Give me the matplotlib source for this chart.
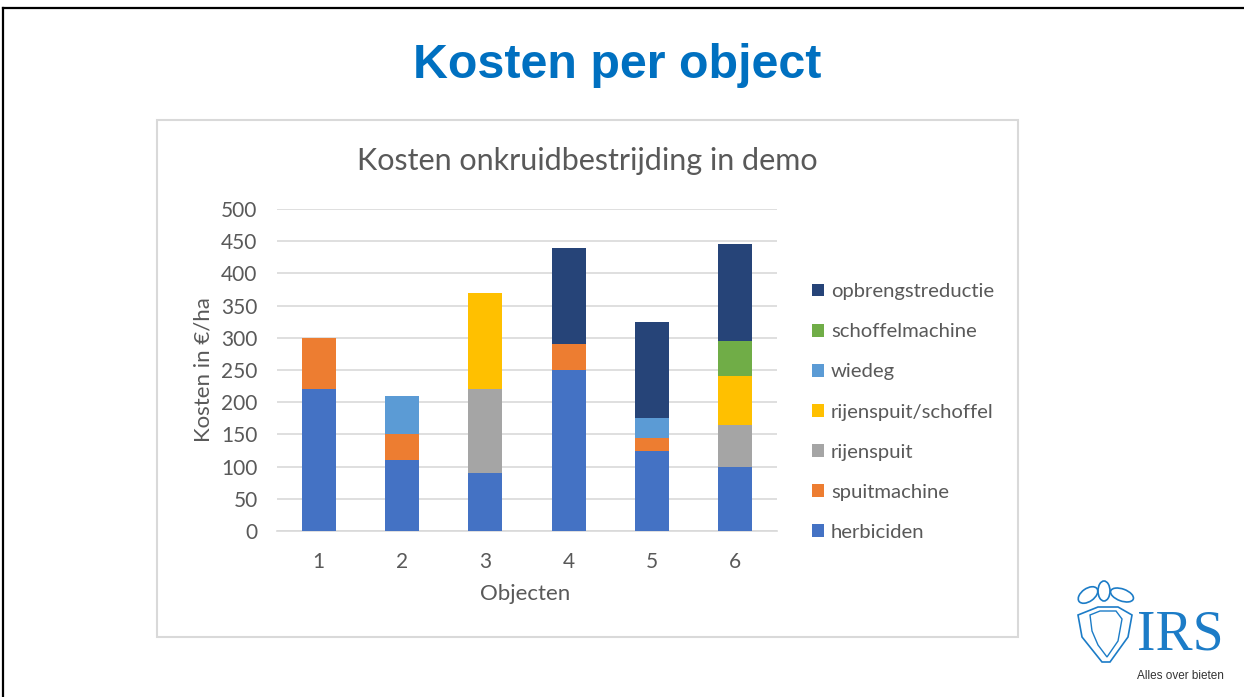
import matplotlib
matplotlib.use("Agg")
import matplotlib.pyplot as plt
from matplotlib.patches import Rectangle, Ellipse, Polygon
from matplotlib.lines import Line2D
import numpy as np

# ---- data ----
objecten = ["1", "2", "3", "4", "5", "6"]
herbiciden = [220, 110, 90, 250, 125, 100]
spuitmachine = [80, 40, 0, 40, 20, 0]
rijenspuit = [0, 0, 130, 0, 0, 65]
rijenspuit_schoffel = [0, 0, 150, 0, 0, 75]
wiedeg = [0, 60, 0, 0, 30, 0]
schoffelmachine = [0, 0, 0, 0, 0, 55]
opbrengstreductie = [0, 0, 0, 150, 150, 150]

series = [
    ("herbiciden", herbiciden, "#4472C4"),
    ("spuitmachine", spuitmachine, "#ED7D31"),
    ("rijenspuit", rijenspuit, "#A5A5A5"),
    ("rijenspuit/schoffel", rijenspuit_schoffel, "#FFC000"),
    ("wiedeg", wiedeg, "#5B9BD5"),
    ("schoffelmachine", schoffelmachine, "#70AD47"),
    ("opbrengstreductie", opbrengstreductie, "#264478"),
]
yticks = [0, 50, 100, 150, 200, 250, 300, 350, 400, 450, 500]

W, H = 1244, 697
fig = plt.figure(figsize=(W / 100, H / 100), dpi=100)
fig.patch.set_facecolor("white")

def fx(px):
    return px / W

def fy(py):
    return 1 - py / H

# slide border
fig.add_artist(Line2D([fx(3), fx(1244)], [fy(8), fy(8)], color="black", lw=1.6))
fig.add_artist(Line2D([fx(3), fx(3)], [fy(8), fy(697)], color="black", lw=1.6))

# slide title
fig.text(fx(617), fy(66), "Kosten per object", ha="center", va="center",
         fontsize=34.8, fontweight="bold", color="#0070C0", family="Liberation Sans")

# chart box
fig.add_artist(Rectangle((fx(157), fy(637)), fx(1018) - fx(157), fy(120) - fy(637),
                         transform=fig.transFigure, fill=False, edgecolor="#D9D9D9", lw=1.5))

gray = "#595959"
fig.text(fx(587), fy(161), "Kosten onkruidbestrijding in demo", ha="center", va="center",
         fontsize=22, color=gray, family="Lato")

ax = fig.add_axes([fx(277), fy(531), fx(777) - fx(277), fy(209) - fy(531)])
x = np.arange(len(objecten))
bottom = np.zeros(len(objecten))
handles = []
for name, vals, col in series:
    v = np.array(vals, dtype=float)
    b = ax.bar(x, v, 0.41, bottom=bottom, color=col, label=name, zorder=3)
    handles.append(b)
    bottom += v

ax.set_xlim(-0.5, 5.5)
ax.set_ylim(0, 500)
ax.set_yticks(yticks)
ax.set_xticks(x)
ax.set_xticklabels(objecten)
ax.tick_params(length=0, labelsize=15, labelcolor=gray)
ax.tick_params(axis="y", pad=14)
ax.tick_params(axis="x", pad=15)
for lab in ax.get_xticklabels() + ax.get_yticklabels():
    lab.set_family("Lato")
ax.grid(axis="y", color="#D9D9D9", lw=1.2, zorder=0)
for s in ["top", "right", "left"]:
    ax.spines[s].set_visible(False)
ax.spines["bottom"].set_color("#D9D9D9")
ax.spines["bottom"].set_linewidth(1.2)
ax.set_axisbelow(True)

fig.text(fx(203), fy(370), "Kosten in €/ha", rotation=90, ha="center", va="center",
         fontsize=16, color=gray, family="Lato")
fig.text(fx(525), fy(594), "Objecten", ha="center", va="center",
         fontsize=16, color=gray, family="Lato")

leg = fig.legend(handles[::-1], [s[0] for s in series][::-1],
                 loc="upper left", bbox_to_anchor=(fx(794), fy(265)),
                 frameon=False, handlelength=0.58, handleheight=0.58,
                 handletextpad=0.35, labelspacing=1.14,
                 prop={"family": "Lato", "size": 14.6})
for t in leg.get_texts():
    t.set_color(gray)

# IRS logo (approximate)
logo = "#1C7CC7"
fig.text(fx(1180), fy(636), "IRS", ha="center", va="center", fontsize=40,
         color=logo, family="Liberation Serif")
fig.text(fx(1180), fy(676), "Alles over bieten", ha="center", va="center", fontsize=8.5,
         color="#333333", family="Liberation Sans")
lax = fig.add_axes([fx(1070), fy(665), fx(1140) - fx(1070), fy(580) - fy(665)])
lax.set_xlim(0, 70)
lax.set_ylim(0, 85)
lax.axis("off")
lax.add_patch(Ellipse((18, 70), 22, 13, angle=35, fill=False, ec=logo, lw=1.2))
lax.add_patch(Ellipse((52, 70), 24, 12, angle=-20, fill=False, ec=logo, lw=1.2))
lax.add_patch(Ellipse((34, 74), 12, 20, angle=0, fill=False, ec=logo, lw=1.2))
lax.add_patch(Polygon([[8, 50], [28, 58], [48, 58], [62, 50], [58, 28], [40, 3],
                       [32, 3], [12, 28]], closed=True, fill=False, ec=logo, lw=1.2))
lax.add_patch(Polygon([[20, 50], [30, 54], [46, 54], [52, 46], [48, 24], [37, 8],
                       [28, 20], [22, 34]], closed=True, fill=False, ec=logo, lw=1.0))

fig.savefig("out.png", dpi=100, facecolor="white")
